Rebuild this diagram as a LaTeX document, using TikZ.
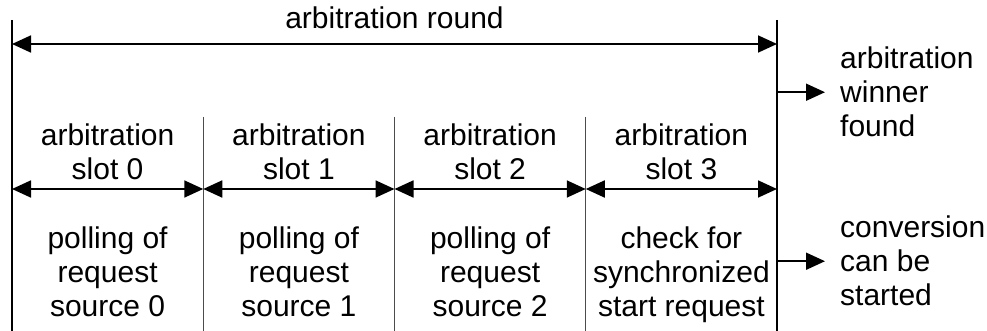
\documentclass[tikz,border=0pt]{standalone}
\usepackage{fontspec}
\setmainfont{Liberation Sans}
\usetikzlibrary{arrows.meta,positioning}

\begin{document}
\begin{tikzpicture}[
  x=1pt, y=-1pt,
  font=\fontsize{30}{34}\selectfont,
  txt/.style={inner sep=0pt, align=center},
  side/.style={inner sep=0pt, align=left, anchor=north west},
  bound/.style={line width=1.8pt},
  sep/.style={line width=0.9pt, black!70},
  span/.style={{Triangle[length=19pt,width=17pt]}-{Triangle[length=19pt,width=17pt]}, line width=1.8pt},
  arrow/.style={-{Triangle[length=19pt,width=17pt]}, line width=1.8pt}
]
\useasboundingbox (0,0) rectangle (987,331);

% round boundaries
\coordinate (ltop) at (12,20);
\coordinate (lbot) at (12,331);
\coordinate (rtop) at (777,20);
\coordinate (rbot) at (777,331);
\draw[bound] (ltop) -- (lbot);
\draw[bound] (rtop) -- (rbot);

\coordinate (rl) at (12,44);
\coordinate (rr) at (777,44);
\draw[span] (rl) -- (rr);
\node[txt] (round) at (394.5,18) {arbitration round};

% slot separators
\coordinate (s0) at (12,189);
\coordinate (s1) at (203.25,189);
\coordinate (s2) at (394.5,189);
\coordinate (s3) at (585.75,189);
\coordinate (s4) at (777,189);
\draw[sep] (203.25,117) -- (203.25,331);
\draw[sep] (394.5,117) -- (394.5,331);
\draw[sep] (585.75,117) -- (585.75,331);

\draw[span] (s0) -- (s1);
\draw[span] (s1) -- (s2);
\draw[span] (s2) -- (s3);
\draw[span] (s3) -- (s4);

\node[txt, anchor=north] (slot0) at (107.6,124) {arbitration\\slot 0};
\node[txt, anchor=north] (slot1) at (298.9,124) {arbitration\\slot 1};
\node[txt, anchor=north] (slot2) at (490.1,124) {arbitration\\slot 2};
\node[txt, anchor=north] (slot3) at (681.4,124) {arbitration\\slot 3};

\node[txt, anchor=north] (poll0) at (107.6,227) {polling of\\request\\source 0};
\node[txt, anchor=north] (poll1) at (298.9,227) {polling of\\request\\source 1};
\node[txt, anchor=north] (poll2) at (490.1,227) {polling of\\request\\source 2};
\node[txt, anchor=north] (check) at (681.4,227) {check for\\synchronized\\start request};

% results
\node[side] (winner) at (840,47) {arbitration\\winner\\found};
\node[side] (conv) at (840,216) {conversion\\can be\\started};

\draw[arrow, shorten >=15pt] (winner.west -| rtop) -- (winner.west);
\draw[arrow, shorten >=15pt] (conv.west -| rtop) -- (conv.west);

\end{tikzpicture}
\end{document}
